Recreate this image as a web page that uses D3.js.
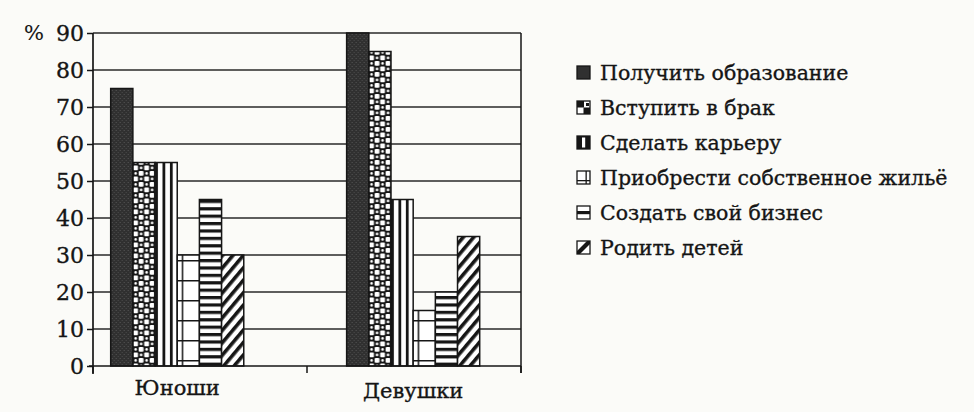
<!DOCTYPE html>
<html>
<head>
<meta charset="utf-8">
<script src="https://cdn.jsdelivr.net/npm/d3@7"></script>
<style>
  html, body { margin: 0; padding: 0; background: #fbfbf8; }
  svg text { font-family: "DejaVu Serif", "Liberation Serif", serif; fill: #151515; stroke: #151515; stroke-width: 0.35px; }
</style>
</head>
<body>
<svg id="chart" width="974" height="412"></svg>
<script>
const groups = ['Юноши', 'Девушки'];
const series = [
  'Получить образование',
  'Вступить в брак',
  'Сделать карьеру',
  'Приобрести собственное жильё',
  'Создать свой бизнес',
  'Родить детей'
];
// values per series: [Юноши, Девушки]
const boys  = [75, 55, 55, 30, 45, 30];
const girls = [90, 85, 45, 15, 20, 35];
const yTicks = [0, 10, 20, 30, 40, 50, 60, 70, 80, 90];
const patternIds = ['p-dark', 'p-check', 'p-vert', 'p-grid', 'p-horiz', 'p-diag'];

const svg = d3.select('#chart');
const ink = '#161616';

const plot = {left: 93, right: 521, top: 33, bottom: 366};

const y = d3.scaleLinear().domain([0, 90]).range([plot.bottom, plot.top]);

const x = d3.scaleBand()
  .domain(groups)
  .range([plot.left, plot.right])
  .paddingInner(0.436)
  .paddingOuter(0.125)
  .align(0.3);

const xs = d3.scaleBand().domain(d3.range(series.length)).range([0, x.bandwidth()]);

// category boundaries for the x ticks
const xb = d3.scaleLinear().domain([0, groups.length]).range([plot.left, plot.right]);

// ---- patterns
const defs = svg.append('defs');

defs.append('pattern').attr('id', 'p-dark')
  .attr('patternUnits', 'userSpaceOnUse').attr('width', 4).attr('height', 4)
  .call(p => {
    p.append('rect').attr('width', 4).attr('height', 4).attr('fill', '#303030');
    p.append('rect').attr('x', 1).attr('y', 2).attr('width', 1).attr('height', 1).attr('fill', '#575757');
    p.append('rect').attr('x', 3).attr('y', 0).attr('width', 1).attr('height', 1).attr('fill', '#4c4c4c');
  });

defs.append('pattern').attr('id', 'p-check')
  .attr('patternUnits', 'userSpaceOnUse').attr('width', 11).attr('height', 11)
  .call(p => {
    p.append('rect').attr('width', 11).attr('height', 11).attr('fill', ink);
    p.append('rect').attr('x', 0.5).attr('y', 0.5).attr('width', 4.8).attr('height', 4.8).attr('rx', 1).attr('fill', '#fff');
    p.append('rect').attr('x', 6).attr('y', 6).attr('width', 4.8).attr('height', 4.8).attr('rx', 1).attr('fill', '#fff');
    p.append('circle').attr('cx', 8.4).attr('cy', 2.9).attr('r', 1.3).attr('fill', '#fff');
    p.append('circle').attr('cx', 2.9).attr('cy', 8.4).attr('r', 1.3).attr('fill', '#fff');
  });

defs.append('pattern').attr('id', 'p-vert')
  .attr('patternUnits', 'userSpaceOnUse').attr('width', 7.4).attr('height', 10)
  .call(p => {
    p.append('rect').attr('width', 7.4).attr('height', 10).attr('fill', '#fff');
    p.append('rect').attr('width', 2.8).attr('height', 10).attr('fill', ink);
  });

defs.append('pattern').attr('id', 'p-grid')
  .attr('patternUnits', 'userSpaceOnUse').attr('width', 22).attr('height', 20)
  .call(p => {
    p.append('rect').attr('width', 22).attr('height', 20).attr('fill', '#fff');
    p.append('rect').attr('x', 5).attr('width', 1.5).attr('height', 20).attr('fill', ink);
    p.append('rect').attr('y', 0).attr('width', 22).attr('height', 1.5).attr('fill', ink);
  });

defs.append('pattern').attr('id', 'p-horiz')
  .attr('patternUnits', 'userSpaceOnUse').attr('width', 10).attr('height', 7.4)
  .call(p => {
    p.append('rect').attr('width', 10).attr('height', 7.4).attr('fill', '#fff');
    p.append('rect').attr('width', 10).attr('height', 3.2).attr('fill', ink);
  });

defs.append('pattern').attr('id', 'p-diag')
  .attr('patternUnits', 'userSpaceOnUse').attr('width', 8).attr('height', 10)
  .attr('patternTransform', 'rotate(40)')
  .call(p => {
    p.append('rect').attr('width', 8).attr('height', 10).attr('fill', '#fff');
    p.append('rect').attr('width', 3.6).attr('height', 10).attr('fill', ink);
  });

// ---- gridlines & frame
svg.append('g')
  .selectAll('line')
  .data(yTicks.filter(d => d > 0))
  .join('line')
  .attr('x1', plot.left).attr('x2', plot.right)
  .attr('y1', d => y(d)).attr('y2', d => y(d))
  .attr('stroke', '#2a2a2a').attr('stroke-width', 1.4);

svg.append('line')
  .attr('x1', plot.right).attr('x2', plot.right)
  .attr('y1', y(90)).attr('y2', y(0) + 7)
  .attr('stroke', ink).attr('stroke-width', 1.5);

// ---- bars
const rows = series.map((s, i) => ({s, i, vals: [boys[i], girls[i]]}));

groups.forEach((g, gi) => {
  svg.append('g')
    .attr('transform', `translate(${x(g)},0)`)
    .selectAll('rect')
    .data(rows)
    .join('rect')
    .attr('x', d => xs(d.i))
    .attr('y', d => y(d.vals[gi]))
    .attr('width', xs.bandwidth())
    .attr('height', d => y(0) - y(d.vals[gi]))
    .attr('fill', d => `url(#${patternIds[d.i]})`)
    .attr('stroke', ink)
    .attr('stroke-width', 1.5);
});

// ---- y axis
const yAxis = svg.append('g')
  .attr('transform', `translate(${plot.left},0)`)
  .call(d3.axisLeft(y).tickValues(yTicks).tickSize(6).tickPadding(3));
yAxis.select('.domain').remove();
yAxis.selectAll('.tick line').attr('stroke', ink).attr('stroke-width', 1.5);
yAxis.selectAll('.tick text')
  .style('font-size', '22px')
  .attr('fill', ink);

svg.append('line')
  .attr('x1', plot.left).attr('x2', plot.left)
  .attr('y1', y(90)).attr('y2', y(0) + 8)
  .attr('stroke', ink).attr('stroke-width', 1.7);

svg.append('text')
  .attr('x', 24).attr('y', y(90) + 7)
  .style('font-size', '21px')
  .style('stroke-width', '0.1px')
  .text('%');

// ---- x axis
svg.append('line')
  .attr('x1', plot.left - 4).attr('x2', plot.right)
  .attr('y1', y(0)).attr('y2', y(0))
  .attr('stroke', ink).attr('stroke-width', 1.7);

svg.append('g')
  .selectAll('line')
  .data(d3.range(groups.length + 1))
  .join('line')
  .attr('x1', d => xb(d)).attr('x2', d => xb(d))
  .attr('y1', y(0)).attr('y2', y(0) + 7)
  .attr('stroke', ink).attr('stroke-width', 1.5);

svg.append('g')
  .selectAll('text')
  .data(groups)
  .join('text')
  .attr('x', d => x(d) + x.bandwidth() / 2)
  .attr('y', (d, i) => 395 + i * 3)
  .attr('text-anchor', 'middle')
  .style('font-size', '21px')
  .text(d => d);

// ---- legend
const legendSwatch = [
  g => g.append('rect').attr('width', 13).attr('height', 13).attr('fill', '#303030'),
  g => {
    g.append('rect').attr('width', 13).attr('height', 13).attr('fill', '#fff');
    g.append('rect').attr('width', 7).attr('height', 6.5).attr('fill', ink);
    g.append('rect').attr('x', 6.5).attr('y', 6.5).attr('width', 6.5).attr('height', 6.5).attr('fill', ink);
    g.append('rect').attr('x', 9).attr('y', 2).attr('width', 3).attr('height', 3).attr('fill', ink);
  },
  g => {
    g.append('rect').attr('width', 13).attr('height', 13).attr('fill', ink);
    g.append('rect').attr('x', 5).attr('y', 1.5).attr('width', 3.2).attr('height', 10).attr('fill', '#fff');
  },
  g => {
    g.append('rect').attr('width', 13).attr('height', 13).attr('fill', '#fff');
    g.append('rect').attr('x', 8.5).attr('width', 1.3).attr('height', 13).attr('fill', ink);
    g.append('rect').attr('y', 9).attr('width', 13).attr('height', 1.3).attr('fill', ink);
  },
  g => {
    g.append('rect').attr('width', 13).attr('height', 13).attr('fill', '#fff');
    g.append('rect').attr('y', 5).attr('width', 13).attr('height', 3.2).attr('fill', ink);
  },
  g => {
    g.append('rect').attr('width', 13).attr('height', 13).attr('fill', '#fff');
    g.append('path').attr('d', 'M0,13 L0,10 L10,0 L13,0 L13,3 L3,13 Z').attr('fill', ink);
  }
];

const legend = svg.append('g').attr('transform', 'translate(577,66)');
const item = legend.selectAll('g')
  .data(series)
  .join('g')
  .attr('transform', (d, i) => `translate(0,${i * 35})`);

item.each(function(d, i) {
  const sw = d3.select(this).append('g');
  legendSwatch[i](sw);
  sw.append('rect').attr('width', 13).attr('height', 13)
    .attr('fill', 'none').attr('stroke', ink).attr('stroke-width', 1.3);
});

item.append('text')
  .attr('x', 23).attr('y', 13.5)
  .style('font-size', '20.5px')
  .text(d => d);
</script>
</body>
</html>
